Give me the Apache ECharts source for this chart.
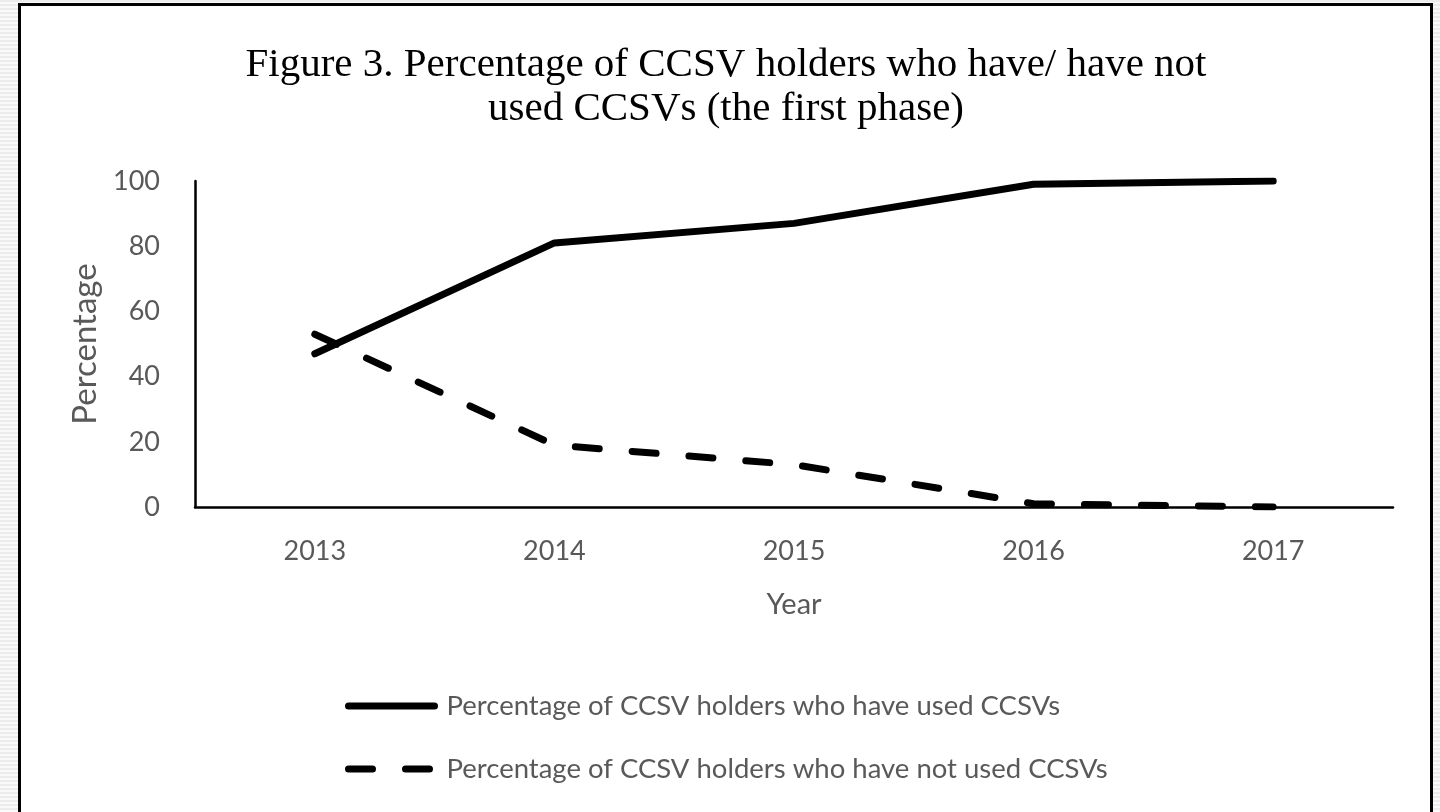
<!DOCTYPE html>
<html>
<head>
<meta charset="utf-8">
<script src="https://cdn.jsdelivr.net/npm/echarts@6/dist/echarts.min.js"></script>
<style>
    html, body {
        margin: 0;
        padding: 0;
        width: 1440px;
        height: 812px;
        overflow: hidden;
        background: repeating-linear-gradient(to bottom, #ececec 0px, #ececec 2px, #fafafa 2px, #fafafa 4px);
    }
    .frame {
        position: absolute;
        left: 18px;
        top: 3px;
        width: 1409px;
        height: 830px;
        border: 3px solid #000;
        background: #fff;
    }
    #myChart {
        position: absolute;
        left: 0;
        top: 0;
        width: 1440px;
        height: 812px;
    }
</style>
</head>
<body>
<div class="frame"></div>
<div id="myChart"></div>
<script>
// 年份
var years = ['2013', '2014', '2015', '2016', '2017'];
// 已使用
var usedPct = [47, 81, 87, 99, 100];
// 未使用
var notUsedPct = [53, 19, 13, 1, 0];
var usedName = 'Percentage of CCSV holders who have used CCSVs';
var notUsedName = 'Percentage of CCSV holders who have not used CCSVs';

var grey = '#595959';
var sans = 'Lato, "Open Sans", sans-serif';

var myChart = echarts.init(document.getElementById('myChart'));
myChart.setOption({
    backgroundColor: 'transparent',
    animation: false,
    title: {
        text: 'Figure 3. Percentage of CCSV holders who have/ have not\nused CCSVs (the first phase)',
        left: 721,
        top: 38,
        textAlign: 'center',
        textStyle: {
            fontFamily: '"Liberation Serif", "Times New Roman", serif',
            fontSize: 41,
            fontWeight: 'normal',
            color: '#000',
            lineHeight: 44
        }
    },
    legend: {
        orient: 'vertical',
        left: 340,
        top: 687,
        itemWidth: 86,
        itemHeight: 14,
        itemGap: 35,
        // 图例只画线，不画圆点
        itemStyle: { opacity: 0 },
        lineStyle: { width: 7, cap: 'round' },
        textStyle: {
            fontFamily: sans,
            fontSize: 27.5,
            color: grey,
            padding: [0, 0, 0, 7]
        },
        data: [usedName, notUsedName]
    },
    grid: {
        left: 195,
        right: 47,
        top: 181,
        bottom: 305,
        containLabel: false
    },
    xAxis: {
        type: 'category',
        data: years,
        boundaryGap: true,
        axisLine: { lineStyle: { color: '#000', width: 2.5 } },
        axisTick: { show: false },
        axisLabel: { fontFamily: sans, fontSize: 27, color: grey, margin: 31 },
        name: 'Year',
        nameLocation: 'middle',
        nameGap: 83,
        nameTextStyle: { fontFamily: sans, fontSize: 29, color: grey }
    },
    yAxis: {
        type: 'value',
        min: 0,
        max: 100,
        interval: 20,
        axisLine: { show: true, lineStyle: { color: '#000', width: 2.5 } },
        axisTick: { show: false },
        splitLine: { show: false },
        axisLabel: { fontFamily: sans, fontSize: 27, color: grey, margin: 35 },
        name: 'Percentage',
        nameLocation: 'middle',
        nameGap: 92,
        nameTextStyle: { fontFamily: sans, fontSize: 33, color: grey }
    },
    series: [
        {
            name: usedName,
            type: 'line',
            data: usedPct,
            symbol: 'none',
            lineStyle: { color: '#000', width: 7, cap: 'round', join: 'round' },
            itemStyle: { color: '#000' }
        },
        {
            name: notUsedName,
            type: 'line',
            data: notUsedPct,
            symbol: 'none',
            lineStyle: { color: '#000', width: 7, type: [24, 33], cap: 'round', join: 'round' },
            itemStyle: { color: '#000' }
        }
    ]
});
</script>
</body>
</html>
